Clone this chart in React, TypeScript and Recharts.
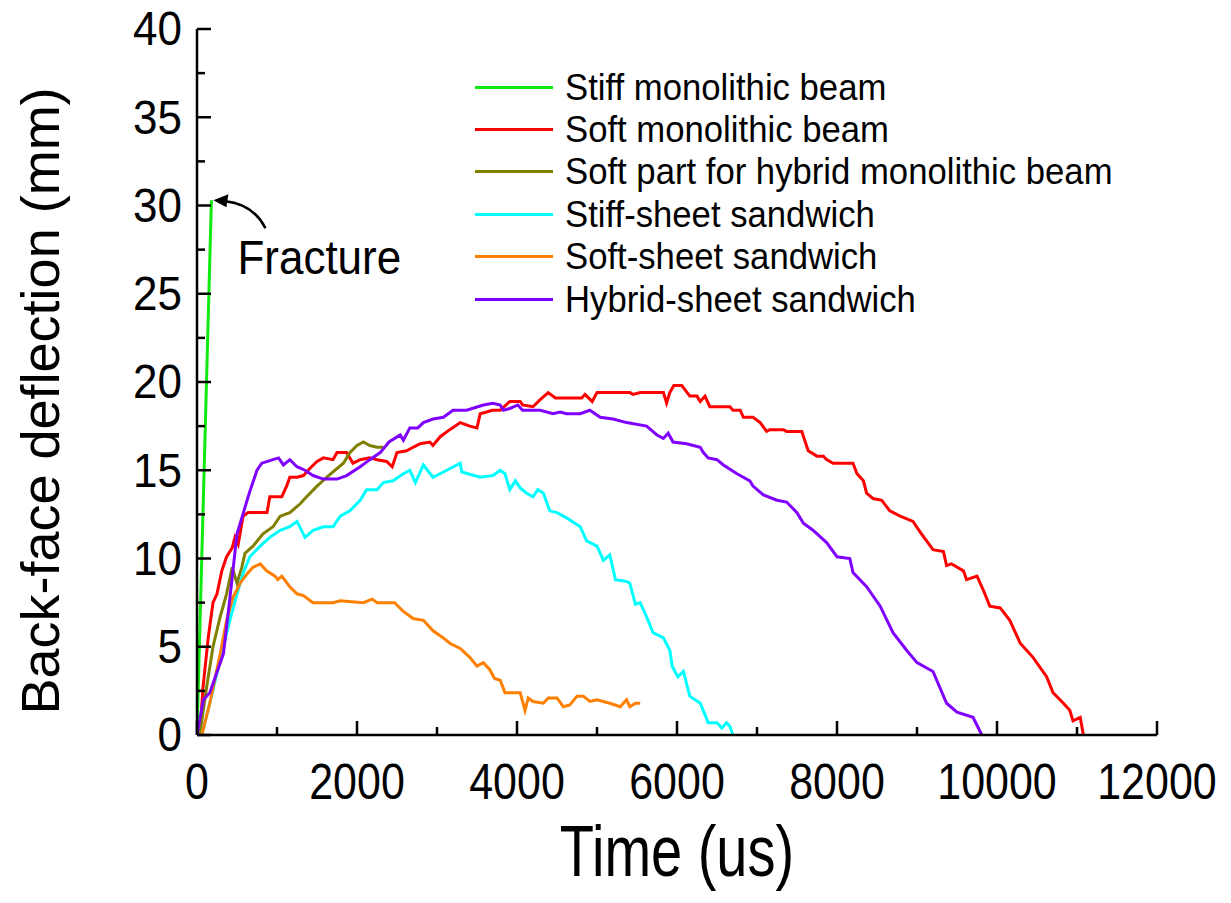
import React from "react";
import { LineChart, Line, XAxis, YAxis, Legend, ReferenceDot, Label } from "recharts";

// back-face deflection histories, [time (us), deflection (mm)]
const stiffMonolithic = [[0, 0], [180, 30.3]];

const softMonolithic = [
  [0, 0], [40, 0.3], [75, 2.7], [140, 5.5], [200, 7.5], [250, 8.0], [310, 9.3], [370, 10.1], [440, 10.6],
  [475, 11.2], [515, 10.8], [575, 12.4], [640, 12.6], [875, 12.6], [910, 13.5], [1060, 13.5], [1120, 14.1],
  [1160, 14.6], [1250, 14.6], [1330, 14.7], [1410, 15.1], [1500, 15.5], [1580, 15.7], [1700, 15.6], [1750, 16.0],
  [1870, 16.0], [1950, 15.4], [2040, 15.6], [2160, 15.7], [2250, 15.6], [2370, 15.5], [2440, 15.2], [2500, 16.0],
  [2620, 16.1], [2700, 16.3], [2790, 16.5], [2910, 16.6], [2950, 16.4], [3040, 16.9], [3160, 17.3], [3290, 17.7],
  [3410, 17.5], [3500, 17.4], [3540, 18.2], [3620, 18.3], [3690, 18.4], [3790, 18.4], [3910, 18.9], [4040, 18.9],
  [4070, 18.7], [4200, 18.6], [4290, 19.0], [4390, 19.4], [4480, 19.1], [4810, 19.1], [4850, 19.3], [4940, 18.9],
  [5000, 19.4], [5410, 19.4], [5450, 19.3], [5540, 19.4], [5830, 19.4], [5870, 18.8], [5910, 19.4], [5960, 19.8],
  [6060, 19.8], [6160, 19.2], [6250, 19.2], [6290, 18.9], [6350, 19.2], [6410, 18.6], [6660, 18.6], [6700, 18.4],
  [6790, 18.4], [6830, 18.0], [6950, 18.0], [7040, 17.7], [7120, 17.2], [7160, 17.3], [7330, 17.3], [7370, 17.2],
  [7560, 17.2], [7640, 16.1], [7750, 15.8], [7830, 15.8], [7870, 15.6], [7950, 15.4], [8200, 15.4], [8250, 14.8],
  [8330, 14.4], [8370, 13.7], [8450, 13.4], [8560, 13.3], [8660, 12.7], [8790, 12.4], [8950, 12.1], [9040, 11.5],
  [9120, 11.0], [9200, 10.5], [9330, 10.4], [9370, 9.6], [9430, 9.7], [9580, 9.3], [9620, 8.8], [9750, 9.0],
  [9830, 8.2], [9910, 7.3], [10040, 7.2], [10160, 6.5], [10290, 5.2], [10370, 4.8], [10450, 4.4], [10620, 3.3],
  [10700, 2.4], [10830, 1.8], [10910, 1.4], [10950, 0.8], [11040, 1.0], [11080, 0],
];

const softPartHybrid = [
  [0, 0], [40, 0.2], [120, 2.7], [200, 5.0], [290, 6.7], [370, 8.0], [440, 9.5], [500, 8.6], [560, 9.5],
  [600, 10.3], [700, 10.7], [825, 11.4], [950, 11.8], [1040, 12.4], [1160, 12.6], [1290, 13.1], [1370, 13.5],
  [1500, 14.1], [1620, 14.6], [1750, 15.1], [1830, 15.4], [1910, 16.0], [2000, 16.4], [2080, 16.6], [2160, 16.4],
  [2250, 16.3], [2330, 16.3],
];

const stiffSheetSandwich = [
  [60, 0], [160, 1.8], [250, 3.5], [330, 5.0], [410, 6.5], [500, 8.0], [580, 9.2], [660, 10.1], [790, 10.7],
  [910, 11.2], [1040, 11.6], [1160, 11.8], [1250, 12.1], [1350, 11.2], [1450, 11.6], [1580, 11.8], [1700, 11.8],
  [1790, 12.4], [1910, 12.7], [2040, 13.3], [2120, 13.9], [2250, 13.9], [2330, 14.3], [2450, 14.4], [2580, 14.8],
  [2660, 15.0], [2730, 14.3], [2830, 15.3], [2950, 14.6], [3080, 14.9], [3290, 15.4], [3310, 14.9], [3540, 14.6],
  [3700, 14.7], [3790, 15.0], [3850, 14.8], [3910, 13.9], [3980, 14.4], [4040, 14.0], [4120, 13.7], [4200, 13.5],
  [4260, 13.9], [4330, 13.7], [4410, 12.7], [4500, 12.6], [4620, 12.3], [4790, 11.8], [4870, 11.0], [5000, 10.7],
  [5080, 9.9], [5160, 10.2], [5230, 8.8], [5370, 8.7], [5410, 8.6], [5480, 7.4], [5540, 7.5], [5620, 6.7],
  [5700, 5.8], [5830, 5.5], [5910, 4.8], [5940, 3.9], [6010, 3.3], [6080, 3.6], [6160, 2.2], [6290, 1.8],
  [6390, 0.7], [6500, 0.7], [6560, 0.4], [6620, 0.7], [6660, 0.5], [6700, 0],
];

const softSheetSandwich = [
  [60, 0], [160, 1.8], [290, 4.6], [370, 6.5], [450, 7.8], [540, 8.6], [620, 9.1], [700, 9.5], [790, 9.7],
  [870, 9.3], [975, 9.0], [1010, 8.8], [1060, 9.0], [1160, 8.4], [1250, 8.0], [1330, 7.9], [1450, 7.5],
  [1700, 7.5], [1790, 7.6], [2080, 7.5], [2190, 7.7], [2250, 7.5], [2470, 7.5], [2580, 7.0], [2700, 6.6],
  [2830, 6.5], [2950, 5.9], [3080, 5.5], [3160, 5.2], [3290, 4.9], [3410, 4.4], [3500, 3.9], [3580, 4.1],
  [3660, 3.7], [3720, 3.2], [3790, 3.1], [3850, 2.4], [4040, 2.4], [4100, 1.4], [4140, 2.1], [4200, 1.9],
  [4330, 1.8], [4390, 2.1], [4500, 2.1], [4580, 1.6], [4660, 1.7], [4750, 2.2], [4830, 2.2], [4910, 1.9],
  [5000, 2.0], [5160, 1.8], [5290, 1.6], [5370, 2.0], [5410, 1.6], [5480, 1.8], [5540, 1.8],
];

const hybridSheetSandwich = [
  [0, 0], [80, 2.0], [160, 2.4], [330, 4.6], [400, 7.3], [500, 11.4], [580, 12.6], [660, 13.8], [750, 15.0],
  [810, 15.4], [950, 15.6], [1020, 15.7], [1080, 15.3], [1160, 15.6], [1250, 15.2], [1350, 15.0], [1450, 14.7],
  [1580, 14.5], [1750, 14.5], [1870, 14.7], [2040, 15.2], [2160, 15.6], [2290, 16.0], [2400, 16.6], [2540, 17.0],
  [2580, 16.7], [2660, 17.4], [2760, 17.4], [2830, 17.7], [2950, 17.9], [3080, 18.0], [3200, 18.4], [3370, 18.4],
  [3580, 18.7], [3700, 18.8], [3790, 18.7], [3830, 18.4], [3910, 18.5], [4010, 18.7], [4070, 18.4], [4290, 18.4],
  [4450, 18.2], [4540, 18.3], [4620, 18.2], [4790, 18.2], [4910, 18.4], [5040, 18.0], [5200, 17.9], [5370, 17.7],
  [5620, 17.5], [5750, 17.0], [5830, 16.8], [5890, 17.1], [5950, 16.6], [6120, 16.5], [6290, 16.3], [6330, 16.0],
  [6390, 15.7], [6500, 15.6], [6580, 15.3], [6750, 14.8], [6910, 14.4], [6950, 14.1], [7080, 13.6], [7250, 13.3],
  [7370, 13.2], [7500, 12.6], [7580, 12.0], [7700, 11.6], [7870, 10.9], [8000, 10.1], [8160, 10.0], [8200, 9.2],
  [8370, 8.4], [8540, 7.3], [8700, 5.8], [8870, 4.8], [9000, 4.1], [9200, 3.6], [9370, 1.8], [9500, 1.3],
  [9700, 1.0], [9810, 0],
];

const xTicks = [0, 1000, 2000, 3000, 4000, 5000, 6000, 7000, 8000, 9000, 10000, 11000, 12000];
const yTicks = [0, 2.5, 5, 7.5, 10, 12.5, 15, 17.5, 20, 22.5, 25, 27.5, 30, 32.5, 35, 37.5, 40];

const fractureAt = [180, 30.3];

const FONT = "Arial, 'Liberation Sans', Helvetica, sans-serif";

const series = [
  { name: "Stiff monolithic beam", color: "#10ea10", points: stiffMonolithic },
  { name: "Soft monolithic beam", color: "#ff0000", points: softMonolithic },
  { name: "Soft part for hybrid monolithic beam", color: "#808000", points: softPartHybrid },
  { name: "Stiff-sheet sandwich", color: "#00ffff", points: stiffSheetSandwich },
  { name: "Soft-sheet sandwich", color: "#ff8000", points: softSheetSandwich },
  { name: "Hybrid-sheet sandwich", color: "#8000ff", points: hybridSheetSandwich },
];
const seriesOrder = series.map((s) => s.name);

const toRows = (pts: number[][]) => pts.map(([t, d]) => ({ t, d }));

// glyphs in this figure are a little taller than plain Arial
const tall = (x: number, y: number, k: number) => `translate(${x} ${y}) scale(1 ${k}) translate(${-x} ${-y})`;

// ticks point into the plot; labelled ones are longer
const BottomTick = ({ x, y, payload }: any) => {
  const major = payload.value % 2000 === 0;
  const by = y + 62;
  return (
    <g>
      <line x1={x} y1={y} x2={x} y2={y - (major ? 14 : 8)} stroke="#000" strokeWidth={2.5} />
      {major && (
        <text x={x} y={by} transform={tall(x, by - 15, 1.14)} textAnchor="middle" fontSize={43} fontFamily={FONT} fill="#000">
          {payload.value}
        </text>
      )}
    </g>
  );
};

const TopTick = ({ x, y, payload }: any) => {
  const major = payload.value % 2000 === 0;
  return <line x1={x} y1={y} x2={x} y2={y + (major ? 14 : 8)} stroke="#000" strokeWidth={2.5} />;
};

const LeftTick = ({ x, y, payload }: any) => {
  const major = payload.value % 5 === 0;
  return (
    <g>
      <line x1={x} y1={y} x2={x + (major ? 14 : 8)} y2={y} stroke="#000" strokeWidth={2.5} />
      {major && (
        <text x={x - 15} y={y + 15} transform={tall(x, y, 1.1)} textAnchor="end" fontSize={44} fontFamily={FONT} fill="#000">
          {payload.value}
        </text>
      )}
    </g>
  );
};

const RightTick = ({ x, y, payload }: any) => {
  const major = payload.value % 5 === 0;
  return <line x1={x} y1={y} x2={x - (major ? 14 : 8)} y2={y} stroke="#000" strokeWidth={2.5} />;
};

const FractureNote = ({ cx, cy }: any) => (
  <g>
    <path
      d={`M ${cx + 54} ${cy + 28} Q ${cx + 42} ${cy + 4} ${cx + 14} ${cy + 1}`}
      fill="none"
      stroke="#000"
      strokeWidth={2.5}
    />
    <path d={`M ${cx + 2} ${cy} L ${cx + 17} ${cy - 6} L ${cx + 15} ${cy + 7} Z`} fill="#000" />
    <text x={cx + 26} y={cy + 73} transform={tall(cx, cy + 58, 1.08)} fontSize={44} fontFamily={FONT} fill="#000">
      Fracture
    </text>
  </g>
);

const LegendBox = ({ payload }: any) => {
  const items = [...(payload || [])].sort((a: any, b: any) => seriesOrder.indexOf(a.value) - seriesOrder.indexOf(b.value));
  return (
    <div style={{ fontFamily: FONT }}>
      {items.map((entry: any) => (
        <div key={entry.value} style={{ display: "flex", alignItems: "center", height: 42.4 }}>
          <div style={{ width: 78, height: 3, background: entry.color, marginRight: 12 }} />
          <span style={{ fontSize: 34.7, color: "#000", whiteSpace: "nowrap", display: "inline-block", transform: "scaleY(1.08)" }}>
            {entry.value}
          </span>
        </div>
      ))}
    </div>
  );
};

export default function App() {
  return (
    <div style={{ position: "absolute", left: 0, top: 0, width: 1231, height: 903, background: "#fff" }}>
      <LineChart width={1231} height={903} margin={{ top: 29, right: 74, bottom: 0, left: 0 }}>
        <XAxis
          dataKey="t"
          type="number"
          domain={[0, 12000]}
          ticks={xTicks}
          interval={0}
          height={168}
          tickSize={0}
          tickMargin={0}
          tickLine={false}
          tick={<BottomTick />}
          axisLine={{ stroke: "#000", strokeWidth: 2.5 }}
          allowDataOverflow
        >
          <Label
            content={({ viewBox }: any) => {
              const cx = viewBox.x + viewBox.width / 2;
              const by = viewBox.y + 141;
              return (
                <text x={cx} y={by} transform={tall(cx, by, 1.3)} textAnchor="middle" fontSize={56} fontFamily={FONT} fill="#000">
                  Time (us)
                </text>
              );
            }}
          />
        </XAxis>
        <XAxis
          xAxisId="top"
          orientation="top"
          type="number"
          domain={[0, 12000]}
          ticks={xTicks}
          interval={0}
          height={0}
          tickSize={0}
          tickMargin={0}
          tickLine={false}
          tick={<TopTick />}
          axisLine={{ stroke: "#000", strokeWidth: 2.5 }}
          allowDataOverflow
        />
        <YAxis
          type="number"
          domain={[0, 40]}
          ticks={yTicks}
          interval={0}
          width={197}
          tickSize={0}
          tickMargin={0}
          tickLine={false}
          tick={<LeftTick />}
          axisLine={{ stroke: "#000", strokeWidth: 2.5 }}
          allowDataOverflow
        >
          <Label
            content={({ viewBox }: any) => {
              const cy = viewBox.y + viewBox.height / 2 + 19;
              return (
                <text
                  x={59}
                  y={cy}
                  transform={`rotate(-90, 59, ${cy})`}
                  textAnchor="middle"
                  fontSize={54}
                  fontFamily={FONT}
                  fill="#000"
                >
                  Back-face deflection (mm)
                </text>
              );
            }}
          />
        </YAxis>
        <YAxis
          yAxisId="right"
          orientation="right"
          type="number"
          domain={[0, 40]}
          ticks={yTicks}
          interval={0}
          width={0}
          tickSize={0}
          tickMargin={0}
          tickLine={false}
          tick={<RightTick />}
          axisLine={{ stroke: "#000", strokeWidth: 2.5 }}
          allowDataOverflow
        />
        {series.map((s) => (
          <Line
            key={s.name}
            name={s.name}
            data={toRows(s.points)}
            dataKey="d"
            type="linear"
            stroke={s.color}
            strokeWidth={3}
            dot={false}
            activeDot={false}
            isAnimationActive={false}
          />
        ))}
        <ReferenceDot
          x={fractureAt[0]}
          y={fractureAt[1]}
          r={0}
          ifOverflow="visible"
          shape={(p: any) => <FractureNote cx={p.cx} cy={p.cy} />}
        />
        <Legend
          layout="vertical"
          align="center"
          verticalAlign="middle"
          content={<LegendBox />}
          wrapperStyle={{ left: 475, top: 66, width: "auto" }}
        />
      </LineChart>
    </div>
  );
}
